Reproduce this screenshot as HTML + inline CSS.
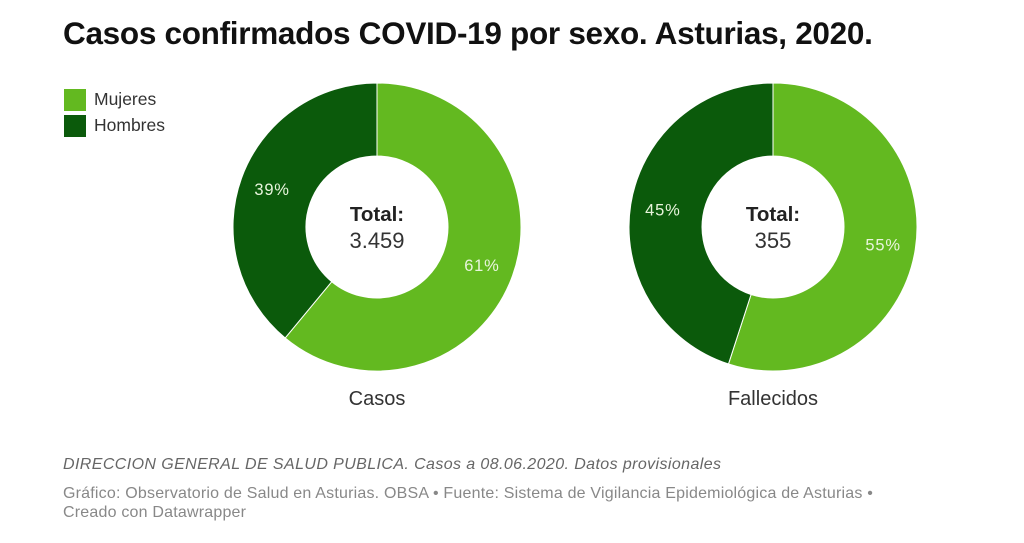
<!DOCTYPE html>
<html><head><meta charset="utf-8"><style>
body{margin:0;background:#fff;width:1024px;height:543px;overflow:hidden;font-family:"Liberation Sans",sans-serif}
.title{position:absolute;left:63px;top:15px;font-size:31.5px;font-weight:bold;color:#111;letter-spacing:-0.3px}
.leg{position:absolute;left:64px;font-size:17.5px;color:#333}
.sw{display:inline-block;width:22px;height:22px;vertical-align:middle;margin-right:8px}
.n1{position:absolute;left:63px;top:456px;font-size:16px;font-style:italic;color:#666;letter-spacing:0.4px}
.n2{position:absolute;left:63px;top:484px;font-size:16px;color:#888;line-height:19px;width:900px;letter-spacing:0.2px;white-space:nowrap}
</style></head><body>
<div class="title">Casos confirmados COVID-19 por sexo. Asturias, 2020.</div>
<div class="leg" style="top:89px"><span class="sw" style="background:#63b920"></span>Mujeres</div>
<div class="leg" style="top:115px"><span class="sw" style="background:#0b5a0b"></span>Hombres</div>
<svg id="chart" width="1024" height="543" style="position:absolute;left:0;top:0"></svg>
<div class="n1">DIRECCION GENERAL DE SALUD PUBLICA. Casos a 08.06.2020. Datos provisionales</div>
<div class="n2">Gráfico: Observatorio de Salud en Asturias. OBSA • Fuente: Sistema de Vigilancia Epidemiológica de Asturias •<br>Creado con Datawrapper</div>
<script>
const charts=["Casos","Fallecidos"];
const totals=["3.459","355"];
const mujeres=[61,55];
const hombres=[39,45];
const colors=["#63b920","#0b5a0b"];
const centersX=[377,773];
const cy=227,R=144,r=71;
const svg=document.getElementById('chart');
const NS="http://www.w3.org/2000/svg";
function pt(a,rad,cx){return [cx+rad*Math.sin(a),cy-rad*Math.cos(a)];}
function arc(cx,a0,a1){
  const big=(a1-a0)>Math.PI?1:0;
  const [x0,y0]=pt(a0,R,cx),[x1,y1]=pt(a1,R,cx),[x2,y2]=pt(a1,r,cx),[x3,y3]=pt(a0,r,cx);
  return `M${x0},${y0}A${R},${R} 0 ${big} 1 ${x1},${y1}L${x2},${y2}A${r},${r} 0 ${big} 0 ${x3},${y3}Z`;
}
function txt(x,y,s,attrs,name){
  const t=document.createElementNS(NS,'text');
  t.setAttribute('x',x);t.setAttribute('y',y);t.setAttribute('text-anchor','middle');
  for(const k in attrs)t.setAttribute(k,attrs[k]);
  t.textContent=s;
  
  
  svg.appendChild(t);
}
charts.forEach((c,i)=>{
  const cx=centersX[i];
  const vals=[mujeres[i],hombres[i]];
  const tot=vals[0]+vals[1];
  let a=0;
  vals.forEach((v,j)=>{
    const a1=a+v/tot*2*Math.PI;
    const p=document.createElementNS(NS,'path');
    p.setAttribute('d',arc(cx,a,a1));
    p.setAttribute('fill',colors[j]);
    p.setAttribute('stroke','#fff');p.setAttribute('stroke-width','1');
    
    
    svg.appendChild(p);
    const mid=(a+a1)/2;
    const [lx,ly]=pt(mid,(R+r)/2+4,cx);
    txt(lx,ly+6,v+'%',{fill:'#e8f5dc','font-size':'16.5','font-family':'Liberation Sans','letter-spacing':'0.8'},'slice-label');
    a=a1;
  });
  txt(cx,221,'Total:',{fill:'#222','font-size':'20.5','font-weight':'bold','font-family':'Liberation Sans'},'total-label');
  txt(cx,248,totals[i],{fill:'#333','font-size':'22','font-family':'Liberation Sans'},'total-value');
  txt(cx,405,c,{fill:'#333','font-size':'20','font-family':'Liberation Sans'},'chart-label');
});
</script>
</body></html>
